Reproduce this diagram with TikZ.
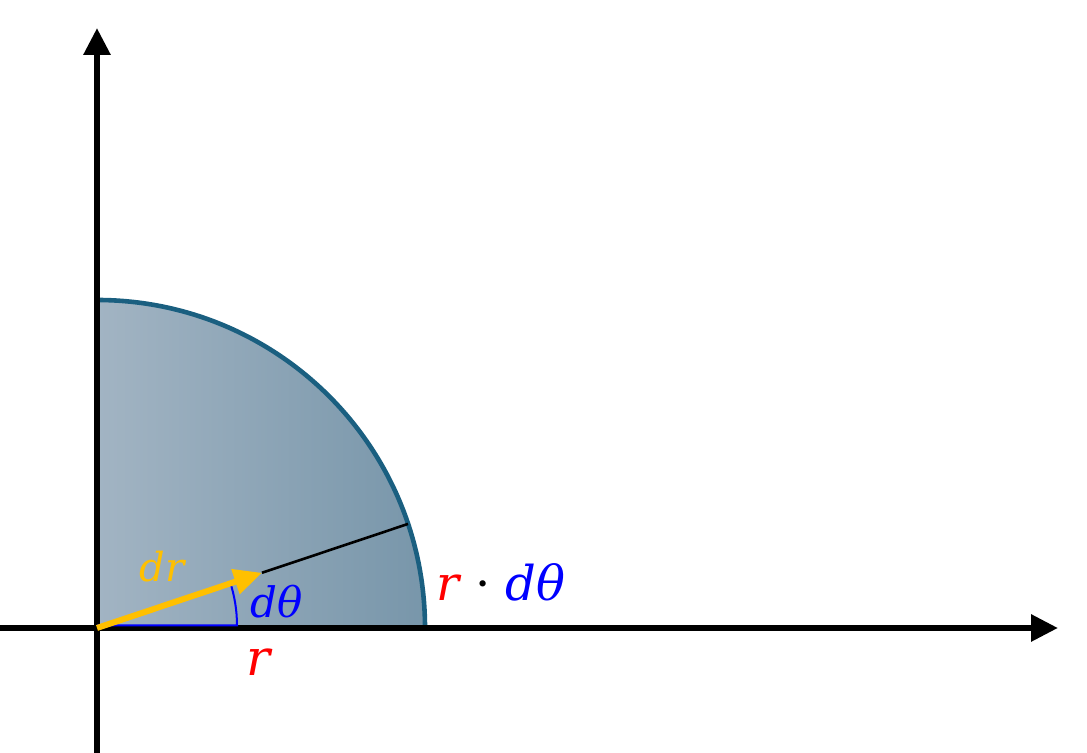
\documentclass[tikz,border=0pt]{standalone}
\usepackage{fontspec}
\setmainfont{DejaVu Serif}
\usetikzlibrary{
	calc,
	arrows.meta,
	positioning
	}
\definecolor{rimblue}{HTML}{1A5F80}
\definecolor{fillleft}{HTML}{A2B4C3}
\definecolor{fillright}{HTML}{7896AA}
\definecolor{drorange}{HTML}{FFC000}
\tikzstyle{axe-std}=[line width=3pt,-{Triangle[length=13.5pt,width=13pt]}]
\tikzstyle{lbl}=[inner sep=0pt,font=\itshape]
\newcommand{\rad}{328}

\begin{document}
\begin{tikzpicture}[x=0.5pt,y=0.5pt]
            \useasboundingbox (-97,-125) rectangle (990,628);
            \coordinate (O) at (0,0);
            \coordinate (R) at (0:\rad);
            \coordinate (T) at (90:\rad);
            \coordinate (tip) at (18.5:174);
            \coordinate (rim) at (18.5:\rad);
            % quarter disc
            \shade[left color=fillleft, right color=fillright] (O) -- (R) arc (0:90:\rad) -- cycle;
            \draw[line width=2.3pt, rimblue] (R) arc (0:90:\rad);
            \draw[line width=1.3pt] (tip) -- (rim);
            %
            \coordinate (xs) at (-97,0);
            \coordinate (xe) at (961,0);
            \coordinate (ys) at (0,-125);
            \coordinate (ye) at (0,600);
            \draw[axe-std] (xs) -- (xe);
            \draw[axe-std] (ys) -- (ye);
            %
            \draw[blue, line width=1pt] ($(O)+(0,2.5)$) -- ($(0:140)+(0,2.5)$) arc (0:18.5:140);
            \draw[drorange, line width=3pt, -{Triangle[length=14pt,width=12.5pt]}] (O) -- (tip);
            %
            \node[lbl, text=drorange, font=\fontsize{20}{22}\selectfont\itshape] (dr) at (65,61) {dr};
            \node[lbl, text=blue, font=\fontsize{21}{24}\selectfont\itshape] (dth) at (180,26) {dθ};
            \node[lbl, font=\fontsize{24}{27}\selectfont\itshape] (arc) at (404,46) {\textcolor{red}{r} \textup{·} \textcolor{blue}{dθ}};
            \node[lbl, text=red, font=\fontsize{25}{28}\selectfont\itshape] (r) at (161,-34) {r};
        \end{tikzpicture}
\end{document}
